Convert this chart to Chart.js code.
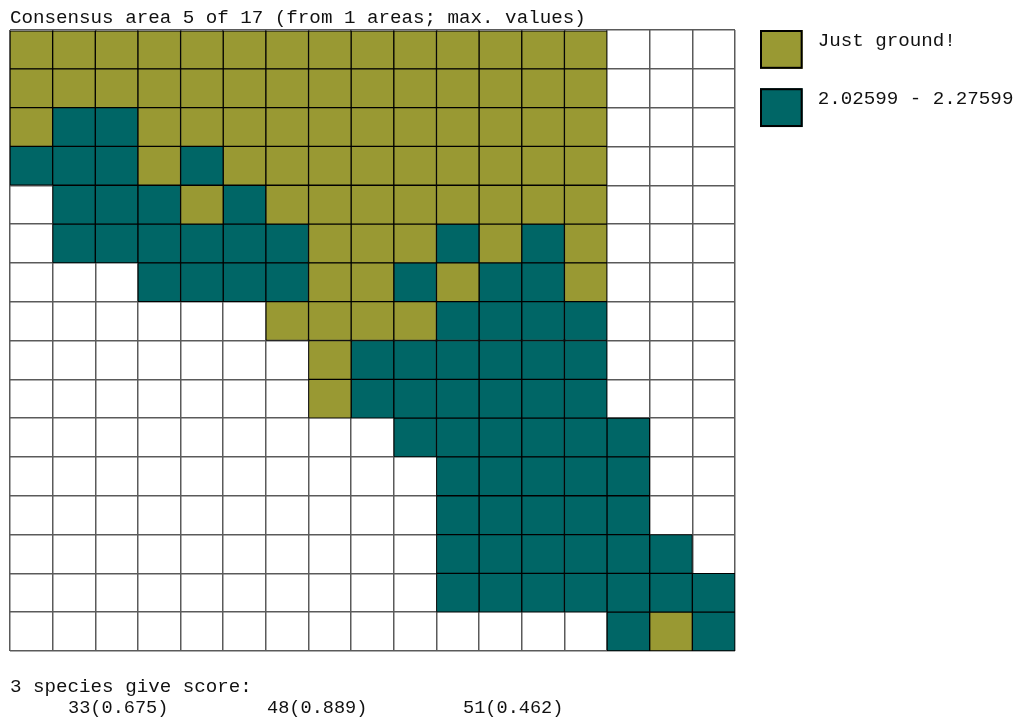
<!DOCTYPE html>
<html>
<head>
<meta charset="utf-8">
<script src="https://cdn.jsdelivr.net/npm/chart.js@4/dist/chart.umd.min.js"></script>
<style>
  html, body { margin: 0; padding: 0; background: #ffffff; }
  canvas { display: block; }
</style>
</head>
<body>
<canvas id="map" width="1019" height="719"></canvas>
<script>
// Heading and grid categories
const titleText = 'Consensus area 5 of 17 (from 1 areas; max. values)';
const columnLabels = ['1', '2', '3', '4', '5', '6', '7', '8', '9', '10', '11', '12', '13', '14', '15', '16', '17'];
const rowCount = 16;

// One string per grid row: G = just ground, T = value range, . = empty
const gridRows = [
  'GGGGGGGGGGGGGG...',
  'GGGGGGGGGGGGGG...',
  'GTTGGGGGGGGGGG...',
  'TTTGTGGGGGGGGG...',
  '.TTTGTGGGGGGGG...',
  '.TTTTTTGGGTGTG...',
  '...TTTTGGTGTTG...',
  '......GGGGTTTT...',
  '.......GTTTTTT...',
  '.......GTTTTTT...',
  '.........TTTTTT..',
  '..........TTTTT..',
  '..........TTTTT..',
  '..........TTTTTT.',
  '..........TTTTTTT',
  '..............TGT'
];

// Legend classes
const classCodes = ['G', 'T'];
const classLabels = ['Just ground!', '2.02599 - 2.27599'];
const classColors = ['#999933', '#006666'];

// Species that give the score
const speciesIds = [33, 48, 51];
const speciesScores = [0.675, 0.889, 0.462];

const FONT = '19.2px "Liberation Mono", "Courier New", monospace';
const FONT_SMALL = '18.6px "Liberation Mono", "Courier New", monospace';

// Each coloured cell becomes a floating bar spanning its row
const datasets = classCodes.map((code, k) => {
  const data = [];
  gridRows.forEach((row, r) => {
    [...row].forEach((ch, c) => {
      if (ch === code) data.push({ x: columnLabels[c], y: [r, r + 1] });
    });
  });
  return {
    label: classLabels[k],
    data,
    backgroundColor: classColors[k],
    borderColor: '#000000',
    borderWidth: 1,
    borderSkipped: false,
    grouped: false,
    categoryPercentage: 1,
    barPercentage: 1
  };
});

// Heading, legend and footer text
const annotate = {
  id: 'annotate',
  afterDraw(chart) {
    const ctx = chart.ctx;
    const yScale = chart.scales.y;
    const xScale = chart.scales.x;
    const area = chart.chartArea;
    const cellW = xScale.getPixelForValue(1) - xScale.getPixelForValue(0);
    const cellH = yScale.getPixelForValue(1) - yScale.getPixelForValue(0);

    ctx.save();
    ctx.font = FONT;
    ctx.fillStyle = '#111111';
    ctx.textBaseline = 'alphabetic';
    ctx.textAlign = 'left';
    ctx.fillText(titleText, 10, 23);

    // legend
    const boxX = area.right + 25;
    chart.data.datasets.forEach((ds, i) => {
      const top = area.top + i * cellH * 1.5;
      ctx.fillStyle = ds.backgroundColor;
      ctx.fillRect(boxX, top, cellW, cellH);
      ctx.strokeStyle = '#000000';
      ctx.lineWidth = 2;
      ctx.strokeRect(boxX + 1, top + 1, cellW - 2, cellH - 2);
      ctx.fillStyle = '#111111';
      ctx.fillText(ds.label, boxX + cellW + 15, top + 16);
    });

    // footer
    ctx.fillText(speciesIds.length + ' species give score:', 10, 692);
    ctx.font = FONT_SMALL;
    const colX = [68, 267, 463];
    speciesIds.forEach((id, i) => {
      ctx.fillText(id + '(' + speciesScores[i].toFixed(3) + ')', colX[i], 713);
    });
    ctx.restore();
  }
};

new Chart(document.getElementById('map'), {
  type: 'bar',
  data: { labels: columnLabels, datasets },
  options: {
    responsive: false,
    animation: false,
    events: [],
    layout: { padding: { left: 10, top: 30, right: 284, bottom: 68 } },
    plugins: {
      legend: { display: false },
      title: { display: false },
      tooltip: { enabled: false }
    },
    scales: {
      x: {
        type: 'category',
        offset: true,
        grid: { offset: true, color: '#5a5a5a', lineWidth: 1.5, drawTicks: false },
        border: { display: false },
        ticks: { display: false },
        afterFit: s => { s.height = 0; }
      },
      y: {
        type: 'linear',
        min: 0,
        max: rowCount,
        reverse: true,
        grid: { color: '#5a5a5a', lineWidth: 1.5, drawTicks: false },
        border: { display: false },
        ticks: { display: false, stepSize: 1 },
        afterFit: s => { s.width = 0; }
      }
    }
  },
  plugins: [annotate]
});
</script>
</body>
</html>
